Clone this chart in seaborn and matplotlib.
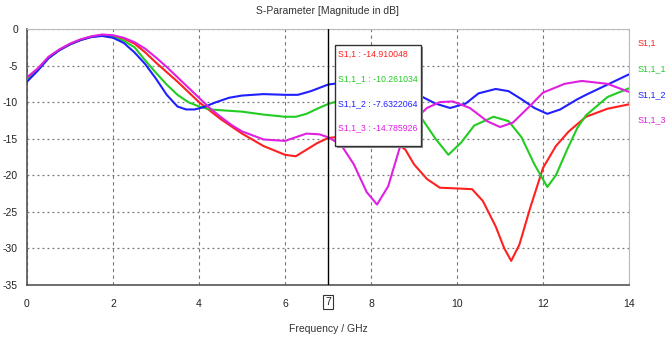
import matplotlib
matplotlib.use("Agg")
import matplotlib.pyplot as plt
import seaborn as sns
import pandas as pd
from matplotlib.patches import Rectangle

# ---- data ----
f_red = [0, 0.25, 0.5, 0.75, 1.0, 1.25, 1.5, 1.75, 2.0, 2.25, 2.5, 2.75, 3.0, 3.25, 3.5, 3.75,
         4.0, 4.5, 5.0, 5.5, 6.0, 6.25, 6.5, 6.75, 7.0, 7.5, 8.0, 8.5, 8.8, 9.0, 9.3, 9.6,
         10.0, 10.35, 10.6, 10.9, 11.1, 11.26, 11.45, 11.7, 12.0, 12.3, 12.6, 13.0, 13.5, 14.0]
s11 = [-6.8, -5.5, -3.9, -2.9, -2.1, -1.5, -1.05, -0.85, -0.95, -1.3, -2.0, -3.2, -4.6, -5.9,
       -7.2, -8.6, -10.0, -12.3, -14.3, -16.0, -17.2, -17.4, -16.5, -15.6, -14.9, -14.6, -14.6,
       -15.2, -16.5, -18.5, -20.5, -21.7, -21.8, -21.9, -23.5, -27.0, -30.0, -31.7, -29.5, -24.5,
       -19.0, -16.0, -14.0, -12.0, -10.9, -10.3]

f_green = [0, 0.25, 0.5, 0.75, 1.0, 1.25, 1.5, 1.75, 2.0, 2.25, 2.5, 2.75, 3.0, 3.25, 3.5, 3.75,
           4.0, 4.25, 4.5, 5.0, 5.5, 6.0, 6.25, 6.5, 6.75, 7.0, 7.5, 8.0, 8.5, 9.0, 9.2, 9.5, 9.8,
           10.1, 10.4, 10.85, 11.2, 11.5, 11.8, 12.1, 12.3, 12.56, 12.8, 13.0, 13.5, 14.0]
s11_1 = [-7.0, -5.6, -4.0, -2.9, -2.1, -1.5, -1.05, -0.9, -1.1, -1.6, -2.5, -4.3, -6.0, -7.6,
         -9.0, -10.0, -10.6, -11.0, -11.1, -11.3, -11.7, -12.0, -12.0, -11.6, -10.9, -10.26,
         -9.4, -9.4, -10.3, -11.7, -12.4, -15.0, -17.2, -15.5, -13.2, -12.0, -12.6, -14.8,
         -18.5, -21.6, -20.0, -16.5, -13.5, -11.8, -9.3, -8.1]

f_blue = [0, 0.25, 0.5, 0.75, 1.0, 1.25, 1.5, 1.75, 2.0, 2.25, 2.5, 2.75, 3.0, 3.25, 3.5, 3.7,
          3.9, 4.1, 4.4, 4.7, 5.0, 5.5, 6.0, 6.3, 6.6, 7.0, 7.5, 8.0, 8.5, 9.0, 9.2, 9.5, 9.84,
          10.2, 10.5, 10.9, 11.2, 11.5, 11.8, 12.1, 12.4, 12.8, 13.0, 13.5, 14.0]
s11_2 = [-7.2, -5.7, -4.0, -2.9, -2.1, -1.5, -1.1, -0.95, -1.2, -1.9, -3.2, -4.8, -6.8, -9.0,
         -10.6, -11.0, -11.0, -10.7, -10.0, -9.4, -9.1, -8.9, -9.0, -9.0, -8.5, -7.6, -7.2,
         -7.6, -8.4, -9.0, -9.3, -10.2, -10.8, -10.2, -8.8, -8.2, -8.5, -9.6, -10.8, -11.6,
         -11.0, -9.6, -9.0, -7.6, -6.2]

f_mag = [0, 0.25, 0.5, 0.75, 1.0, 1.25, 1.5, 1.75, 2.0, 2.25, 2.5, 2.75, 3.0, 3.25, 3.5, 3.75,
         4.0, 4.25, 4.5, 4.75, 5.0, 5.5, 6.0, 6.5, 6.8, 7.0, 7.3, 7.6, 7.9, 8.14, 8.4, 8.7, 9.0,
         9.3, 9.6, 9.9, 10.3, 10.7, 11.0, 11.3, 11.7, 12.0, 12.5, 12.9, 13.5, 14.0]
s11_3 = [-6.6, -5.4, -3.8, -2.8, -2.0, -1.4, -1.0, -0.75, -0.85, -1.2, -1.8, -2.7, -3.9, -5.2,
         -6.6, -8.0, -9.4, -10.8, -12.0, -13.1, -14.0, -15.1, -15.3, -14.3, -14.4, -14.8, -15.8,
         -18.5, -22.3, -24.0, -21.5, -15.6, -12.5, -10.8, -10.0, -9.9, -10.8, -12.6, -13.4,
         -12.8, -10.5, -8.7, -7.5, -7.1, -7.5, -8.6]

names = ["S1,1", "S1,1_1", "S1,1_2", "S1,1_3"]
marker_vals = ["-14.910048", "-10.261034", "-7.6322064", "-14.785926"]
xticks = [0, 2, 4, 6, 8, 10, 12, 14]
yticks = [0, -5, -10, -15, -20, -25, -30, -35]
colors = ["#ff2020", "#22cc22", "#2020ff", "#e020e0"]

frames = []
for n, fx, fy in zip(names, [f_red, f_green, f_blue, f_mag], [s11, s11_1, s11_2, s11_3]):
    frames.append(pd.DataFrame({"freq": fx, "mag": fy, "series": n}))
df = pd.concat(frames, ignore_index=True)

sns.set_style("white")
plt.rcParams["font.family"] = ["Liberation Sans", "DejaVu Sans"]

fig = plt.figure(figsize=(6.67, 3.38), dpi=100)
ax = fig.add_axes([27 / 667, 1 - 285 / 338, (629 - 27) / 667, (285 - 29) / 338])

sns.lineplot(data=df, x="freq", y="mag", hue="series", palette=dict(zip(names, colors)),
             linewidth=1.5, legend=False, ax=ax, sort=False, zorder=3)

ax.set_xlim(0, 14)
ax.set_ylim(-35, 0)
ax.set_xticks(xticks)
ax.set_yticks(yticks)
ax.set_xticklabels([str(t) for t in xticks])
ax.set_yticklabels([str(t) for t in yticks])
ax.tick_params(axis="both", labelsize=7.5, colors="#333333", length=3, width=0.8, direction="out")
ax.tick_params(axis="x", pad=7)
for t in ax.get_xticklabels() + ax.get_yticklabels():
    t.set_color("#222222")

ax.yaxis.grid(True, linestyle=(0, (1.5, 2.5)), color="#777777", linewidth=0.9)
ax.xaxis.grid(True, linestyle=(0, (3, 3)), color="#777777", linewidth=0.8)
ax.set_axisbelow(True)
for s in ["left", "bottom"]:
    ax.spines[s].set_color("#555555")
    ax.spines[s].set_linewidth(1.2)
for s in ["right", "top"]:
    ax.spines[s].set_color("#bbbbbb")
    ax.spines[s].set_linewidth(0.8)

ax.set_xlabel("Frequency / GHz", fontsize=7.5, color="#333333", labelpad=11)
ax.set_ylabel("")
ax.set_title("S-Parameter [Magnitude in dB]", fontsize=7.5, color="#333333", pad=11)

# marker line at 7 GHz
ax.axvline(7, color="black", linewidth=1.0, zorder=4)
fig.text(328 / 667, 1 - 302 / 338, "7", ha="center", va="center", fontsize=7.5,
         color="#222222", zorder=5,
         bbox=dict(boxstyle="square,pad=0.2", fc="white", ec="#333333", lw=0.8))

# tooltip box
shadow = Rectangle((337 / 667, 1 - 148 / 338), 86 / 667, 101 / 338, transform=fig.transFigure,
                   facecolor="#888888", edgecolor="none", zorder=10)
box = Rectangle((335 / 667, 1 - 146 / 338), 86 / 667, 101 / 338, transform=fig.transFigure,
                facecolor="white", edgecolor="#333333", linewidth=1.0, zorder=11)
fig.patches.extend([shadow, box])
for i, (n, v, c) in enumerate(zip(names, marker_vals, colors)):
    fig.text(338 / 667, 1 - (54 + i * 24.7) / 338, f"{n} : {v}", color=c, fontsize=6.3,
             va="center", ha="left", zorder=12)

# right-side legend labels
for i, (n, c) in enumerate(zip(names, colors)):
    fig.text(638 / 667, 1 - (43 + i * 25.7) / 338, n, color=c, fontsize=6.5, va="center", ha="left")

fig.savefig("out.png", dpi=100)
